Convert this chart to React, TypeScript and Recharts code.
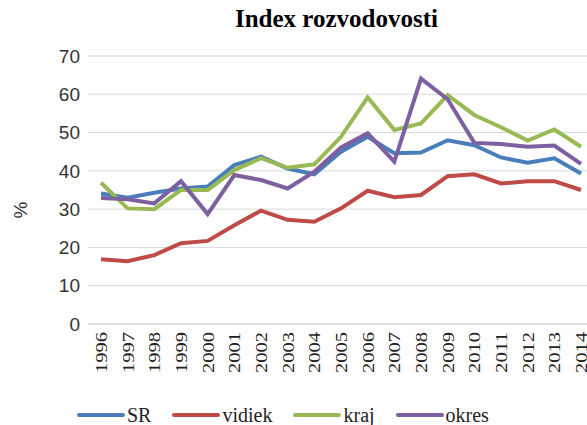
import { LineChart, Line, XAxis, YAxis, CartesianGrid, Legend } from 'recharts'

const years = ['1996', '1997', '1998', '1999', '2000', '2001', '2002', '2003', '2004', '2005', '2006', '2007', '2008', '2009', '2010', '2011', '2012', '2013', '2014']
const sr = [34.1, 33.0, 34.3, 35.4, 35.9, 41.5, 43.7, 40.6, 39.1, 45.0, 48.9, 44.6, 44.8, 48.0, 46.7, 43.5, 42.1, 43.3, 39.3]
const vidiek = [16.9, 16.4, 18.0, 21.1, 21.7, 25.8, 29.6, 27.2, 26.7, 30.2, 34.8, 33.1, 33.7, 38.6, 39.1, 36.7, 37.3, 37.3, 35.0]
const kraj = [36.9, 30.2, 30.0, 35.0, 35.0, 40.2, 43.3, 40.8, 41.7, 48.9, 59.2, 50.7, 52.4, 59.8, 54.6, 51.4, 47.9, 50.8, 46.3]
const okres = [32.9, 32.6, 31.5, 37.3, 28.7, 38.9, 37.6, 35.4, 39.8, 46.1, 49.8, 42.4, 64.1, 58.7, 47.3, 47.0, 46.3, 46.6, 41.8]
const yTicks = [0, 10, 20, 30, 40, 50, 60, 70]

const series = [
  { key: 'SR', values: sr, color: '#4a7ebb' },
  { key: 'vidiek', values: vidiek, color: '#be4b48' },
  { key: 'kraj', values: kraj, color: '#98b954' },
  { key: 'okres', values: okres, color: '#7d60a0' },
]

const data = years.map((year, i) => {
  const row: Record<string, string | number> = { year }
  series.forEach(s => { row[s.key] = s.values[i] })
  return row
})

const serif = '"Liberation Serif", "Times New Roman", serif'
const sans = '"Liberation Sans", Arial, sans-serif'

// rotated year labels, stretched a bit along their length like the original
const YearTick = ({ x, y, payload }: any) => (
  <text
    x={x}
    y={y}
    dy="0.35em"
    transform={`rotate(-90 ${x} ${y})`}
    textAnchor="end"
    fontFamily={serif}
    fontSize={17}
    fill="#222"
    textLength={41}
    lengthAdjust="spacingAndGlyphs"
  >
    {payload.value}
  </text>
)

const PercentLabel = ({ viewBox }: any) => {
  const cx = viewBox.x + 20
  const cy = viewBox.y + viewBox.height / 2 + 20
  return (
    <text x={cx} y={cy} dy="0.35em" transform={`rotate(-90 ${cx} ${cy})`} textAnchor="middle" fontFamily={sans} fontSize={19} fill="#333">
      %
    </text>
  )
}

const renderLegend = () => (
  <div style={{ boxSizing: 'border-box', display: 'flex', alignItems: 'center', paddingLeft: 77, paddingTop: 3, height: 24, fontFamily: serif, fontSize: 20, lineHeight: '20px', color: '#222' }}>
    {series.map(s => (
      <div key={s.key} style={{ display: 'flex', alignItems: 'center', marginRight: 21 }}>
        <span style={{ display: 'inline-block', width: 48, height: 4, background: s.color, borderRadius: 2, marginRight: 2 }} />
        <span>{s.key}</span>
      </div>
    ))}
  </div>
)

export default function App() {
  return (
    <div style={{ position: 'absolute', left: 0, top: 0, width: 587, height: 425, overflow: 'hidden', background: '#fff', fontFamily: serif }}>
      <div style={{ position: 'absolute', left: 0, width: 673, top: 5, textAlign: 'center', fontFamily: serif, fontWeight: 'bold', fontSize: 25 }}>
        Index rozvodovosti
      </div>
      <LineChart width={594} height={425} data={data} margin={{ top: 56, right: 0, bottom: 0, left: 0 }}>
        <CartesianGrid vertical={false} stroke="#d9d9d9" />
        <XAxis
          dataKey="year"
          interval={0}
          padding={{ left: 13, right: 13 }}
          height={77}
          tick={<YearTick />}
          tickLine={false}
          axisLine={{ stroke: '#d9d9d9' }}
        />
        <YAxis
          domain={[0, 70]}
          ticks={yTicks}
          width={88}
          axisLine={false}
          tickLine={false}
          tick={{ fontFamily: sans, fontSize: 19, fill: '#333' }}
          label={<PercentLabel />}
        />
        <Legend verticalAlign="bottom" height={24} content={renderLegend} />
        {series.map(s => (
          <Line
            key={s.key}
            dataKey={s.key}
            stroke={s.color}
            strokeWidth={4}
            dot={false}
            type="linear"
            isAnimationActive={false}
          />
        ))}
      </LineChart>
    </div>
  )
}
